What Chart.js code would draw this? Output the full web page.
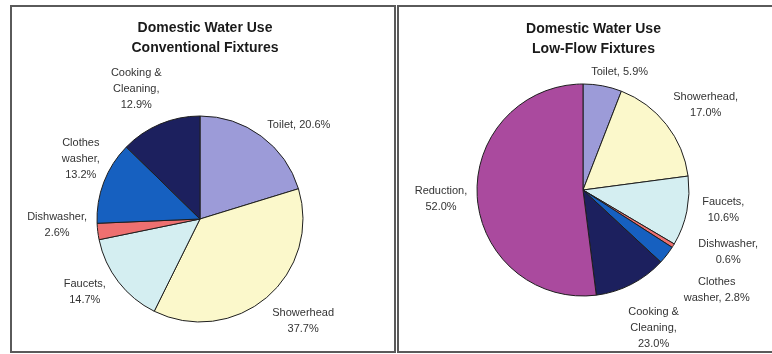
<!DOCTYPE html>
<html>
<head>
<meta charset="utf-8">
<script src="https://cdn.jsdelivr.net/npm/chart.js@4/dist/chart.umd.min.js"></script>
<style>
  html, body { margin: 0; padding: 0; background: #fff; width: 772px; height: 354px; overflow: hidden; }
  .box { position: absolute; border: 2px solid #5a5a5a; box-sizing: border-box; background: #fff; }
  .title { position: absolute; text-align: center; font: bold 14px "Liberation Sans", Arial, sans-serif; line-height: 20px; color: #1a1a1a; }
  canvas { position: absolute; }
</style>
</head>
<body>
<div class="box" style="left:10px; top:5px; width:386px; height:348px;"></div>
<div class="box" style="left:397px; top:5px; width:393px; height:348px;"></div>
<canvas id="left" width="382" height="344" style="left:12px; top:7px; width:382px; height:344px;"></canvas>
<canvas id="right" width="389" height="344" style="left:399px; top:7px; width:389px; height:344px;"></canvas>
<div class="title" style="left:12px; width:386px; top:17px;">Domestic Water Use<br>Conventional Fixtures</div>
<div class="title" style="left:397px; width:393px; top:18px;">Domestic Water Use<br>Low-Flow Fixtures</div>
<script>
// ---- data ----
const leftCategories = ['Toilet', 'Showerhead', 'Faucets', 'Dishwasher', 'Clothes washer', 'Cooking & Cleaning'];
const leftValues = [20.6, 37.7, 14.7, 2.6, 13.2, 12.9];
const leftPercentText = ['20.6%', '37.7%', '14.7%', '2.6%', '13.2%', '12.9%'];

const rightCategories = ['Toilet', 'Showerhead', 'Faucets', 'Dishwasher', 'Clothes washer', 'Cooking & Cleaning', 'Reduction'];
const rightValues = [5.9, 17.0, 10.6, 0.6, 2.8, 11.1, 52.0];
const rightPercentText = ['5.9%', '17.0%', '10.6%', '0.6%', '2.8%', '23.0%', '52.0%'];

// ---- label text layout (line breaks as printed) ----
const leftLabelLines = [
  [leftCategories[0] + ', ' + leftPercentText[0]],
  [leftCategories[1], leftPercentText[1]],
  [leftCategories[2] + ',', leftPercentText[2]],
  [leftCategories[3] + ',', leftPercentText[3]],
  ['Clothes', 'washer,', leftPercentText[4]],
  ['Cooking &', 'Cleaning,', leftPercentText[5]]
];
const rightLabelLines = [
  [rightCategories[0] + ', ' + rightPercentText[0]],
  [rightCategories[1] + ',', rightPercentText[1]],
  [rightCategories[2] + ',', rightPercentText[2]],
  [rightCategories[3] + ',', rightPercentText[3]],
  ['Clothes', 'washer, ' + rightPercentText[4]],
  ['Cooking &', 'Cleaning,', rightPercentText[5]],
  [rightCategories[6] + ',', rightPercentText[6]]
];

// ---- styles ----
const sliceColors = {
  'Toilet': '#9c9bd8',
  'Showerhead': '#fbf8cb',
  'Faucets': '#d4eef1',
  'Dishwasher': '#ee7070',
  'Clothes washer': '#1660c0',
  'Cooking & Cleaning': '#1c205e',
  'Reduction': '#aa4a9e'
};
const leftNudges = [[13, 3], [10, 4], [-9, -6], [-1, -10], [4, -11], [-10, -4]];
const rightNudges = [[10, 4], [6, -3], [6, -6], [21, -7], [16, 19], [6, 13], [0, 1]];

const outsideLabels = {
  id: 'outsideLabels',
  afterDatasetsDraw(chart, args, opts) {
    const ctx = chart.ctx;
    const meta = chart.getDatasetMeta(0);
    ctx.save();
    ctx.font = opts.font;
    ctx.fillStyle = opts.color;
    ctx.textAlign = 'center';
    ctx.textBaseline = 'middle';
    meta.data.forEach((arc, i) => {
      const p = arc.getProps(['x', 'y', 'startAngle', 'endAngle', 'outerRadius'], true);
      const mid = (p.startAngle + p.endAngle) / 2;
      const ux = Math.cos(mid), uy = Math.sin(mid);
      const lines = opts.lines[i];
      const w = Math.max(...lines.map(l => ctx.measureText(l).width));
      const h = lines.length * opts.lineHeight;
      const d = p.outerRadius + opts.gap;
      const n = opts.nudges[i] || [0, 0];
      const cx = p.x + ux * d + ux * w / 2 + n[0];
      const cy = p.y + uy * d + uy * h / 2 + n[1];
      lines.forEach((l, k) => ctx.fillText(l, cx, cy - h / 2 + opts.lineHeight * (k + 0.5)));
    });
    ctx.restore();
  }
};

function makePie(id, categories, values, lines, nudges, padding) {
  new Chart(document.getElementById(id), {
    type: 'pie',
    data: {
      labels: categories,
      datasets: [{
        data: values,
        backgroundColor: categories.map(c => sliceColors[c]),
        borderColor: '#1e1e1e',
        borderWidth: 1
      }]
    },
    options: {
      responsive: false,
      animation: false,
      layout: { padding: padding },
      plugins: {
        legend: { display: false },
        tooltip: { enabled: false },
        title: { display: false },
        outsideLabels: {
          lines: lines,
          nudges: nudges,
          font: '11px "Liberation Sans", Arial, sans-serif',
          color: '#333',
          lineHeight: 16,
          gap: 10
        }
      }
    },
    plugins: [outsideLabels]
  });
}

makePie('left', leftCategories, leftValues, leftLabelLines, leftNudges,
  { left: 84.5, right: 90.5, top: 108.5, bottom: 28.5 });
makePie('right', rightCategories, rightValues, rightLabelLines, rightNudges,
  { left: 77.5, right: 98.5, top: 76.5, bottom: 54.5 });
</script>
</body>
</html>
